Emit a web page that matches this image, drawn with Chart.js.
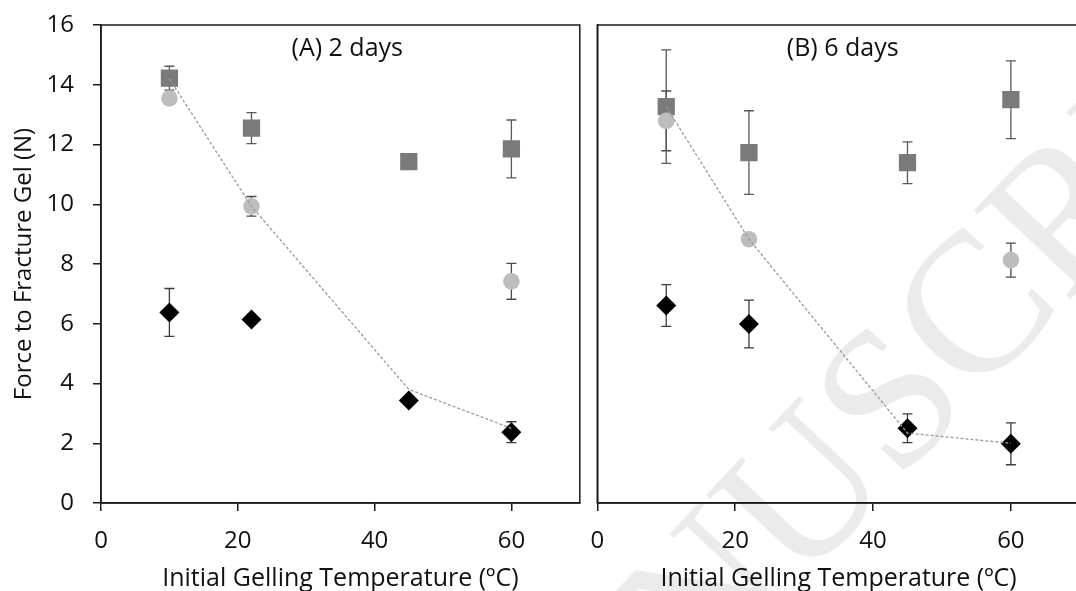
<!DOCTYPE html>
<html><head><meta charset="utf-8">
<script src="https://cdn.jsdelivr.net/npm/chart.js@4/dist/chart.umd.min.js"></script>
<style>
html,body{margin:0;padding:0;background:#fff;overflow:hidden;width:1076px;height:591px;position:relative;}
canvas{position:absolute;top:0;}
#ca{left:0;}
#cb{left:572px;}
</style></head><body>
<canvas id="ca" width="592" height="591"></canvas>
<canvas id="cb" width="520" height="591"></canvas>
<script>
// ---------- data ----------
const temps = [10, 22, 45, 60];
const xTickValues = [0, 20, 40, 60];
const panelTitles = ['(A) 2 days', '(B) 6 days'];
const xTitle = 'Initial Gelling Temperature (\u00BAC)';
const yTitle = 'Force to Fracture Gel (N)';

// (A) 2 days
const squaresA    = [14.22, 12.55, 11.43, 11.85];
const squaresAErr = [0.40, 0.52, 0, 0.97];
const circlesA    = [13.54, 9.93, null, 7.42];
const circlesAErr = [0, 0.33, 0, 0.60];
const diamondsA   = [6.38, 6.14, 3.43, 2.37];
const diamondsAErr= [0.80, 0, 0, 0.35];
const lineA       = [14.20, 9.93, 3.80, 2.50];

// (B) 6 days
const squaresB    = [13.27, 11.73, 11.39, 13.50];
const squaresBErr = [1.90, 1.40, 0.70, 1.30];
const circlesB    = [12.79, 8.83, null, 8.13];
const circlesBErr = [1.00, 0, 0, 0.57];
const diamondsB   = [6.61, 5.99, 2.50, 1.98];
const diamondsBErr= [0.70, 0.80, 0.48, 0.70];
const lineB       = [13.27, 8.83, 2.34, 2.00];

// ---------- rendering ----------
const FONT = '"Open Sans", "Noto Sans", sans-serif';
const AXIS = '#1a1a1a';
const TEXT = '#111111';

function pts(vals) { return temps.map((t, i) => ({x: t, y: vals[i]})); }

const errorBars = {
  id: 'errorBars',
  beforeDatasetsDraw(chart) {
    const ctx = chart.ctx, ys = chart.scales.y;
    chart.data.datasets.forEach((ds, di) => {
      if (!ds.err) return;
      const meta = chart.getDatasetMeta(di);
      ctx.save();
      ctx.strokeStyle = ds.errColor || '#505050';
      ctx.lineWidth = 1.3;
      ds.data.forEach((p, i) => {
        const e = ds.err[i];
        if (p.y == null || !e) return;
        const x = meta.data[i].x;
        const y1 = ys.getPixelForValue(p.y + e), y2 = ys.getPixelForValue(p.y - e);
        ctx.beginPath();
        ctx.moveTo(x, y1); ctx.lineTo(x, y2);
        ctx.moveTo(x - 5, y1); ctx.lineTo(x + 5, y1);
        ctx.moveTo(x - 5, y2); ctx.lineTo(x + 5, y2);
        ctx.stroke();
      });
      ctx.restore();
    });
  }
};

const frameAndTitle = {
  id: 'frameAndTitle',
  afterDraw(chart, args, opts) {
    const {ctx, chartArea: a} = chart;
    ctx.save();
    ctx.strokeStyle = AXIS;
    ctx.lineWidth = 1.5;
    ctx.strokeRect(a.left, a.top, a.right - a.left, a.bottom - a.top);
    ctx.fillStyle = TEXT;
    ctx.font = '25px ' + FONT;
    ctx.textAlign = 'center';
    ctx.textBaseline = 'middle';
    ctx.fillText(opts.text, chart.scales.x.getPixelForValue(opts.at[0]), chart.scales.y.getPixelForValue(opts.at[1]));
    ctx.restore();
  }
};

const watermark = {
  id: 'watermark',
  beforeDraw(chart, args, opts) {
    if (!opts.text) return;
    const ctx = chart.ctx;
    ctx.save();
    ctx.font = '200px "Liberation Serif", "DejaVu Serif", serif';
    ctx.fillStyle = '#ebebeb';
    ctx.translate(opts.cx, opts.cy);
    ctx.rotate(-Math.PI / 4 - 0.03);
    const pre = ctx.measureText(opts.text.slice(0, opts.anchor)).width;
    const half = ctx.measureText(opts.text[opts.anchor]).width / 2;
    ctx.textBaseline = 'alphabetic';
    ctx.fillText(opts.text, -(pre + half), 66);
    ctx.restore();
  }
};

function makePanel(id, idx, sq, sqE, ci, ciE, di, diE, ln, yAxisWidth, padRight, withY) {
  return new Chart(document.getElementById(id), {
    type: 'scatter',
    data: {
      datasets: [
        { type: 'line', data: pts(ln), borderColor: '#9a9a9a', borderWidth: 1.3,
          borderDash: [3, 2], pointRadius: 0, showLine: true, fill: false, tension: 0 },
        { data: pts(di), pointStyle: 'rectRot', pointRadius: 10, backgroundColor: '#000',
          borderColor: '#000', borderWidth: 0, err: diE, errColor: '#3c3c3c' },
        { data: pts(ci), pointStyle: 'circle', pointRadius: 8.3, backgroundColor: '#bdbdbd',
          borderColor: '#bdbdbd', borderWidth: 0, err: ciE, errColor: '#4a4a4a' },
        { data: pts(sq), pointStyle: 'rect', pointRadius: 12.2, backgroundColor: '#7a7a7a',
          borderColor: '#7a7a7a', borderWidth: 0, err: sqE, errColor: '#5a5a5a' }
      ]
    },
    options: {
      responsive: false,
      animation: false,
      events: [],
      layout: { padding: { top: 25, right: padRight, left: 0, bottom: 0 } },
      plugins: {
        legend: { display: false },
        tooltip: { enabled: false },
        frameAndTitle: { text: panelTitles[idx], at: [idx === 0 ? 36 : 35.6, 15.2] },
        watermark: idx === 1 ? { text: 'MANUSCRIPT', anchor: 3, cx: 800 - 572, cy: 490 } : {}
      },
      scales: {
        x: {
          type: 'linear', min: 0, max: 70,
          afterBuildTicks: s => { s.ticks = xTickValues.map(v => ({value: v})); },
          afterFit: s => { s.height = 88; s.paddingLeft = 0; s.paddingRight = 0; },
          grid: { display: true, drawOnChartArea: false, drawTicks: true, tickLength: 8, color: AXIS, lineWidth: 1.5 },
          border: { display: true, color: AXIS, width: 1.5 },
          ticks: { color: TEXT, font: { family: FONT, size: 24 }, padding: 16, maxRotation: 0 },
          title: { display: true, text: xTitle, color: TEXT, font: { family: FONT, size: 25 }, padding: { top: 0, bottom: -3 } }
        },
        y: {
          type: 'linear', min: 0, max: 16,
          afterFit: s => { s.width = yAxisWidth; s.paddingTop = 0; s.paddingBottom = 0; },
          grid: { display: true, drawOnChartArea: false, drawTicks: withY, tickLength: 8, color: AXIS, lineWidth: 1.5 },
          border: { display: true, color: AXIS, width: 1.5 },
          ticks: { display: withY, stepSize: 2, color: TEXT, font: { family: FONT, size: 24 }, padding: 19 },
          title: { display: withY, text: yTitle, color: TEXT, font: { family: FONT, size: 24 }, padding: { top: 10, bottom: 0 } }
        }
      }
    },
    plugins: [watermark, errorBars, frameAndTitle]
  });
}

makePanel('ca', 0, squaresA, squaresAErr, circlesA, circlesAErr, diamondsA, diamondsAErr, lineA, 101, 5, true);
makePanel('cb', 1, squaresB, squaresBErr, circlesB, circlesBErr, diamondsB, diamondsBErr, lineB, 25.3, 520 - 515.3, false);
</script>
</body></html>
